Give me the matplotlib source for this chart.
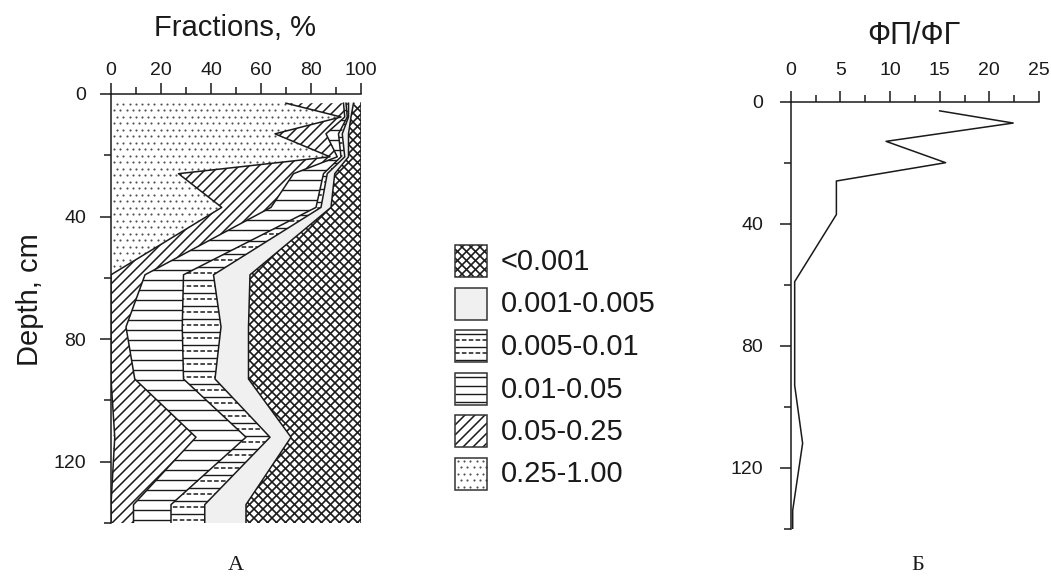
import numpy as np
import matplotlib
matplotlib.use("Agg")
import matplotlib.pyplot as plt
from matplotlib.patches import Polygon, Rectangle
from matplotlib.collections import LineCollection
from matplotlib.ticker import MultipleLocator

plt.rcParams['font.family'] = ['Liberation Sans', 'DejaVu Sans']

# ---------------- data ----------------
depth = [3, 7.5, 13, 20.5, 26, 37, 59, 76, 93, 112, 134, 140]
# fractions, % (stacked from left to right: coarse -> fine)
frac_025_100 = [70, 92, 65.6, 87.6, 27, 44.3, 0, 0, 0, 1.5, 0, 0]
frac_005_025 = [23, 1.5, 20.4, 2.9, 46, 19.7, 13.6, 6, 9.5, 32.5, 9, 9]
frac_001_005 = [1, 1, 5, 1.5, 12, 18, 15.4, 22.5, 19.5, 20, 15, 15]
frac_0005_001 = [1, 0.5, 1.5, 1.5, 1.5, 2, 12, 15.5, 12.6, 9.6, 13.5, 13.5]
frac_0001_0005 = [2, 1, 2.5, 1.5, 3, 4, 14.6, 11, 13.4, 8.4, 16.5, 16.5]
frac_lt_0001 = [3, 4, 5, 5, 10.5, 12, 44.4, 45, 45, 28, 46, 46]
legend_labels = ['<0.001', '0.001-0.005', '0.005-0.01', '0.01-0.05', '0.05-0.25', '0.25-1.00']

ratio_depth = [3, 7, 13, 20, 26, 37, 59, 93, 112, 134, 140]
ratio_fp_fg = [15, 22.4, 9.6, 15.6, 4.6, 4.6, 0.4, 0.4, 1.2, 0.2, 0.2]

# ---------------- figure ----------------
W, H = 1051, 581
fig = plt.figure(figsize=(W / 100, H / 100), dpi=100)
TXT = '#1a1a1a'


def rect(x0, x1, y0, y1):
    return [x0 / W, 1 - y1 / H, (x1 - x0) / W, (y1 - y0) / H]


def add_pattern(ax, patch, kind, x0, x1, y0, y1, sx, sy, hstep=10):
    """Draw a hatch pattern clipped to patch. sx, sy = pixels per data unit."""
    arts = []
    if kind == 'horiz':
        step = hstep / sy
        ys = np.arange(y0 + step * 0.6, y1, step)
        arts.append(LineCollection([[(x0, y), (x1, y)] for y in ys], colors=TXT, linewidths=1.0))
    elif kind == 'dash':
        step = 13 / sy
        ys = np.arange(y0 + step * 0.3, y1, step)
        arts.append(LineCollection([[(x0, y), (x1, y)] for y in ys], colors=TXT, linewidths=1.0))
        arts.append(LineCollection([[(x0, y + step / 2), (x1, y + step / 2)] for y in ys],
                                   colors=TXT, linewidths=1.1, linestyles=(0, (3, 1.5))))
    elif kind in ('diag', 'cross'):
        spacing = 10.0 if kind == 'diag' else 9.0
        lw = 1.1 if kind == 'diag' else 1.2
        k = (x1 - x0) * sx / sy
        step = spacing / sy
        segs = [[(x0, c), (x1, c - k)] for c in np.arange(y0, y1 + k + step, step)]
        if kind == 'cross':
            segs += [[(x0, c), (x1, c + k)] for c in np.arange(y0 - k - step, y1 + step, step)]
        arts.append(LineCollection(segs, colors=TXT, linewidths=lw))
    elif kind == 'dots':
        dx, dy = 6.2 / sx, 6.5 / sy
        xs, ys = [], []
        for i, y in enumerate(np.arange(y0 + dy / 2, y1, dy)):
            off = (dx / 2) if i % 2 else 0
            for x in np.arange(x0 + dx / 2 + off, x1, dx):
                xs.append(x)
                ys.append(y)
        sc = ax.scatter(xs, ys, s=2.4, c='#505050', linewidths=0, zorder=2)
        sc.set_clip_path(patch)
        return
    for a in arts:
        a.set_zorder(2)
        ax.add_collection(a)
        a.set_clip_path(patch)


styles = {
    '<0.001': ('cross', 'white'),
    '0.001-0.005': ('none', '#f0f0f0'),
    '0.005-0.01': ('dash', 'white'),
    '0.01-0.05': ('horiz', 'white'),
    '0.05-0.25': ('diag', 'white'),
    '0.25-1.00': ('dots', 'white'),
}

# ---------------- panel A ----------------
ax0, ax1, ay0, ay1 = 111, 361, 94, 523
axA = fig.add_axes(rect(ax0, ax1, ay0, ay1))
axA.set_xlim(0, 100)
axA.set_ylim(140, 0)
sxA = (ax1 - ax0) / 100
syA = (ay1 - ay0) / 140

d = np.array(depth, dtype=float)
layers = [('0.25-1.00', frac_025_100), ('0.05-0.25', frac_005_025), ('0.01-0.05', frac_001_005),
          ('0.005-0.01', frac_0005_001), ('0.001-0.005', frac_0001_0005), ('<0.001', frac_lt_0001)]
cum = np.zeros(len(depth))
bounds = [cum.copy()]
for name, vals in layers:
    cum = cum + np.array(vals, dtype=float)
    bounds.append(cum.copy())

for i, (name, vals) in enumerate(layers):
    left, right = bounds[i], bounds[i + 1]
    verts = list(zip(left, d)) + list(zip(right[::-1], d[::-1]))
    kind, fc = styles[name]
    poly = Polygon(verts, closed=True, facecolor=fc, edgecolor='none', zorder=1)
    axA.add_patch(poly)
    if kind != 'none':
        add_pattern(axA, poly, kind, 0, 100, 0, 140, sxA, syA)

for b in bounds[1:]:
    axA.plot(b, d, color=TXT, lw=1.1, zorder=3)

for side in ('right', 'bottom'):
    axA.spines[side].set_visible(False)
for side in ('top', 'left'):
    axA.spines[side].set_linewidth(1.1)
    axA.spines[side].set_color(TXT)
axA.xaxis.set_ticks_position('top')
axA.xaxis.set_label_position('top')
axA.xaxis.set_major_locator(MultipleLocator(20))
axA.xaxis.set_minor_locator(MultipleLocator(10))
axA.yaxis.set_major_locator(MultipleLocator(40))
axA.yaxis.set_minor_locator(MultipleLocator(20))
axA.tick_params(axis='x', which='major', direction='out', length=8, width=1.1, pad=3,
                labelsize=14, colors=TXT)
axA.tick_params(axis='x', which='minor', direction='out', length=5, width=1.1, colors=TXT)
axA.tick_params(axis='y', which='major', direction='out', length=8, width=1.1, pad=10,
                labelsize=14, colors=TXT)
axA.tick_params(axis='y', which='minor', direction='out', length=5, width=1.1, colors=TXT)

fig.text(235 / W, 1 - 28 / H, 'Fractions, %', ha='center', va='center', fontsize=21, color=TXT)
fig.text(30 / W, 1 - 300 / H, 'Depth, cm', ha='center', va='center', rotation=90,
         fontsize=21, color=TXT)
fig.text(236 / W, 1 - 566 / H, 'А', ha='center', va='center', fontsize=16,
         family=['Liberation Serif', 'DejaVu Serif'], color=TXT)

# ---------------- legend ----------------
lx0, lx1, ly0, ly1 = 440, 700, 235, 500
axL = fig.add_axes(rect(lx0, lx1, ly0, ly1))
axL.set_xlim(lx0, lx1)
axL.set_ylim(ly1, ly0)
axL.axis('off')
centers = [261, 303.5, 346, 388.5, 431, 473.5]
for lab, yc in zip(legend_labels, centers):
    kind, fc = styles[lab]
    r = Rectangle((455, yc - 16), 32, 32, facecolor=fc, edgecolor='none', zorder=1)
    axL.add_patch(r)
    if kind != 'none':
        add_pattern(axL, r, kind, 455, 487, yc - 16, yc + 16, 1.0, 1.0, hstep=8.2)
    axL.add_patch(Rectangle((455, yc - 16), 32, 32, facecolor='none', edgecolor='#333333',
                            lw=1.1, zorder=3))
    axL.text(501, yc + 1, lab, ha='left', va='center', fontsize=21, color=TXT)

# ---------------- panel Б ----------------
bx0, bx1, by0, by1 = 790.7, 1039, 101.7, 528.7
axB = fig.add_axes(rect(bx0, bx1, by0, by1))
axB.set_xlim(0, 25)
axB.set_ylim(140, 0)
axB.plot(ratio_fp_fg, ratio_depth, color=TXT, lw=1.1)
for side in ('right', 'bottom'):
    axB.spines[side].set_visible(False)
for side in ('top', 'left'):
    axB.spines[side].set_linewidth(1.1)
    axB.spines[side].set_color(TXT)
axB.xaxis.set_ticks_position('top')
axB.xaxis.set_major_locator(MultipleLocator(5))
axB.xaxis.set_minor_locator(MultipleLocator(2.5))
axB.yaxis.set_major_locator(MultipleLocator(40))
axB.yaxis.set_minor_locator(MultipleLocator(20))
axB.tick_params(axis='x', which='major', direction='out', length=8, width=1.1, pad=8,
                labelsize=14, colors=TXT)
axB.tick_params(axis='x', which='minor', direction='out', length=5, width=1.1, colors=TXT)
axB.tick_params(axis='y', which='major', direction='out', length=8, width=1.1, pad=12,
                labelsize=14, colors=TXT)
axB.tick_params(axis='y', which='minor', direction='out', length=5, width=1.1, colors=TXT)

fig.text(914 / W, 1 - 36 / H, 'ФП/ФГ', ha='center', va='center', fontsize=22, color=TXT)
fig.text(918 / W, 1 - 566 / H, 'Б', ha='center', va='center', fontsize=16,
         family=['Liberation Serif', 'DejaVu Serif'], color=TXT)

fig.savefig('out.png', dpi=100)
